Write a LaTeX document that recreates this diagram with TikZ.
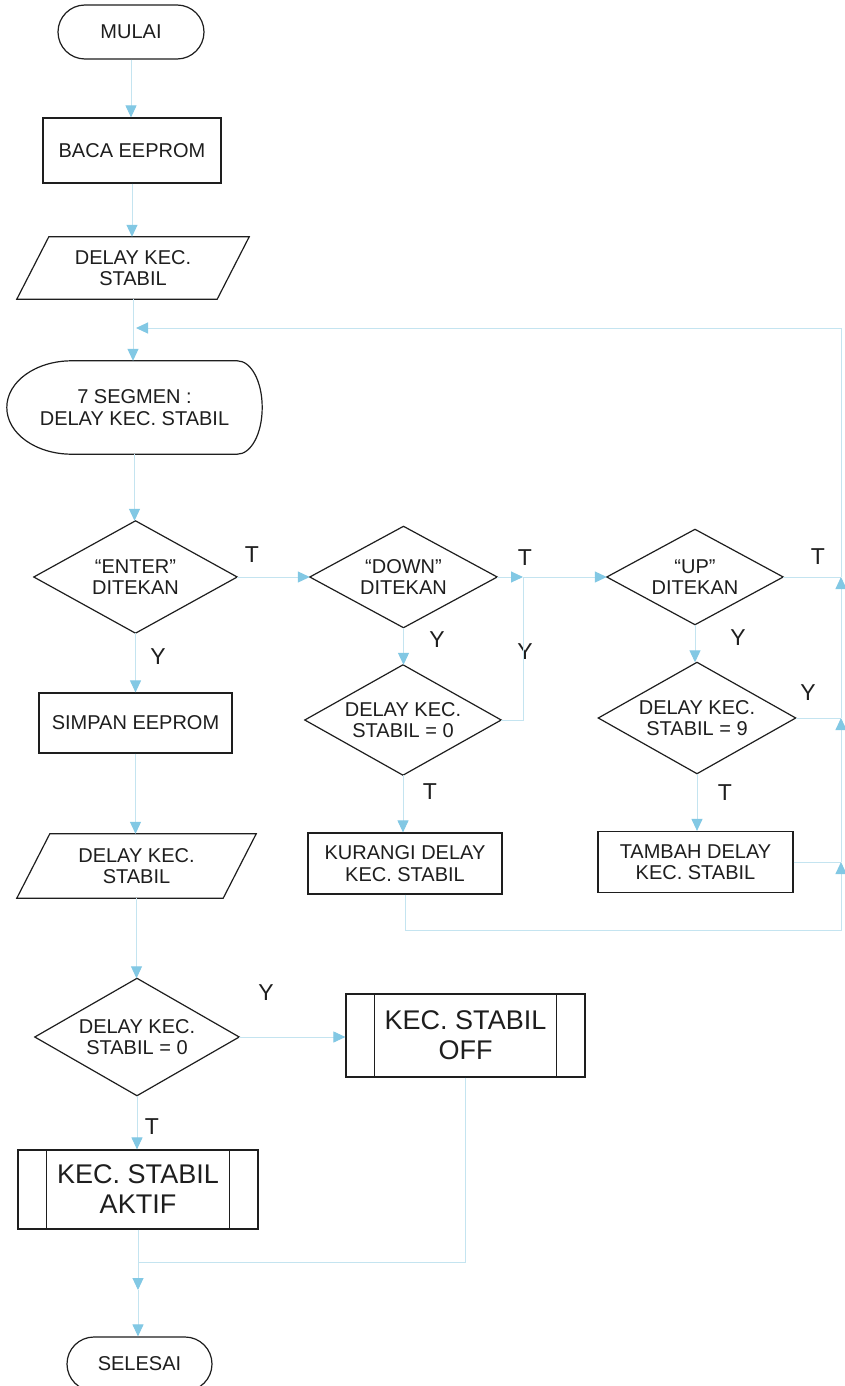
\documentclass[tikz,border=0pt]{standalone}
\usepackage{fontspec}
\setmainfont{Liberation Sans}
\usetikzlibrary{arrows.meta,calc}

\definecolor{linec}{RGB}{196,228,240}
\definecolor{tipc}{RGB}{130,200,228}
\definecolor{ink}{RGB}{30,30,30}

\begin{document}
\begin{tikzpicture}[x=1pt,y=-1pt,
  every node/.style={font=\fontsize{20}{21.5}\selectfont, align=center, text=ink, inner sep=0pt},
  outline/.style={draw=ink, line width=1.2pt},
  terminal/.style={outline, rectangle, rounded corners=27pt, minimum width=#1, minimum height=54pt},
  process/.style n args={2}{outline, rectangle, minimum width=#1, minimum height=#2},
  decision/.style n args={2}{rectangle, minimum width=#1, minimum height=#2,
    append after command={\pgfextra{\draw[outline] (\tikzlastnode.north) -- (\tikzlastnode.east)
      -- (\tikzlastnode.south) -- (\tikzlastnode.west) -- cycle;}}},
  io/.style n args={3}{rectangle, minimum width=#1, minimum height=#2,
    append after command={\pgfextra{\draw[outline] ([shift={(#3,0)}]\tikzlastnode.north west)
      -- (\tikzlastnode.north east) -- ([shift={(-#3,0)}]\tikzlastnode.south east)
      -- (\tikzlastnode.south west) -- cycle;}}},
  subr/.style n args={3}{outline, rectangle, minimum width=#1, minimum height=#2,
    font=\fontsize{27}{30}\selectfont,
    append after command={\pgfextra{
      \draw[outline] ([shift={(#3,0)}]\tikzlastnode.north west) -- ([shift={(#3,0)}]\tikzlastnode.south west);
      \draw[outline] ([shift={(-#3,0)}]\tikzlastnode.north east) -- ([shift={(-#3,0)}]\tikzlastnode.south east);}}},
  displayshape/.style={rectangle, minimum width=255pt, minimum height=93pt,
    append after command={\pgfextra{\draw[outline]
      ([shift={(65,0)}]\tikzlastnode.north west) -- ([shift={(-25,0)}]\tikzlastnode.north east)
      .. controls ([shift={(-11,0)}]\tikzlastnode.north east) and ([shift={(0,-26)}]\tikzlastnode.east) .. (\tikzlastnode.east)
      .. controls ([shift={(0,26)}]\tikzlastnode.east) and ([shift={(-11,0)}]\tikzlastnode.south east) .. ([shift={(-25,0)}]\tikzlastnode.south east)
      -- ([shift={(65,0)}]\tikzlastnode.south west)
      .. controls ([shift={(29,0)}]\tikzlastnode.south west) and ([shift={(0,26)}]\tikzlastnode.west) .. (\tikzlastnode.west)
      .. controls ([shift={(0,-26)}]\tikzlastnode.west) and ([shift={(29,0)}]\tikzlastnode.north west) .. cycle;}}},
  lab/.style={font=\fontsize{23}{23}\selectfont},
  flow/.style={draw=linec, line width=1pt},
  arr/.style={flow, -{Triangle[width=11pt,length=12pt,color=tipc]}}
]
\fill[white] (0,0) rectangle (844,1386);
\useasboundingbox (0,0) rectangle (844,1386);

% main column
\node[terminal=146pt] (mulai) at (131,32) {MULAI};
\node[process={178pt}{65pt}] (baca) at (132,150.5) {BACA EEPROM};
\node[io={232pt}{62pt}{32}] (par1) at (133,268) {DELAY KEC.\\STABIL};
\node[displayshape] (disp) at (134.5,407.5) {7 SEGMEN :\\DELAY KEC. STABIL};
\node[decision={203pt}{112pt}] (enter) at (135.5,577) {“ENTER”\\DITEKAN};
\node[process={193pt}{60pt}] (simpan) at (135.5,723) {SIMPAN EEPROM};
\node[io={239pt}{64pt}{33}] (par2) at (136.5,866) {DELAY KEC.\\STABIL};
\node[decision={204pt}{117pt}] (db) at (137,1037) {DELAY KEC.\\STABIL = 0};
\node[subr={240pt}{79pt}{29}] (aktif) at (138,1189.5) {KEC. STABIL\\AKTIF};
\node[terminal=145pt] (selesai) at (139.5,1364) {SELESAI};
\node[subr={239pt}{83pt}{29}] (off) at (465.5,1035.5) {KEC. STABIL\\OFF};

% DOWN column
\node[decision={187pt}{101pt}] (down) at (403.5,577) {“DOWN”\\DITEKAN};
\node[decision={196pt}{110pt}] (d0) at (403,720) {DELAY KEC.\\STABIL = 0};
\node[process={194pt}{61pt}] (kurangi) at (405,863.5) {KURANGI DELAY\\KEC. STABIL};

% UP column
\node[decision={176pt}{95pt}] (up) at (695,577) {“UP”\\DITEKAN};
\node[decision={197pt}{111pt}] (d9) at (697,718) {DELAY KEC.\\STABIL = 9};
\node[process={195pt}{61pt}] (tambah) at (695.5,862) {TAMBAH DELAY\\KEC. STABIL};

% junction points
\coordinate (j1) at (136,328);
\coordinate (rc) at (841,328);
\coordinate (j2) at (523,577);
\coordinate (r1) at (841,577);
\coordinate (r2) at (841,718);
\coordinate (r3) at (841,862);
\coordinate (r4) at (841,930);
\coordinate (jb) at (138,1262);
\coordinate (jc) at (138,1290);

% branch labels
\node[lab] (tEnter) at (252,555) {T};
\node[lab] (tDown) at (525,558) {T};
\node[lab] (tUp) at (818,557) {T};
\node[lab] (yEnter) at (158,657) {Y};
\node[lab] (yDown) at (437,640) {Y};
\node[lab] (yZero) at (525,652) {Y};
\node[lab] (yUp) at (738,638) {Y};
\node[lab] (yNine) at (808,693) {Y};
\node[lab] (tZero) at (430,792) {T};
\node[lab] (tNine) at (725,793) {T};
\node[lab] (yOff) at (266,993) {Y};
\node[lab] (tAktif) at (152,1127) {T};

% connectors (vertical runs kept straight below each source node)
\draw[arr] (mulai.south) -- (mulai.south |- baca.north);
\draw[arr] (baca.south) -- (baca.south |- par1.north);
\draw[arr] (par1.south) -- (par1.south |- disp.north);
\draw[arr] (disp.south) -- (disp.south |- enter.north);
\draw[arr] (enter.east) -- (down.west);
\draw[arr] (down.east) -- (j2);
\draw[arr] (j2) -- (up.west);
\draw[flow] (d0.east) -| (j2);
\draw[arr] (down.south) -- (down.south |- d0.north);
\draw[arr] (d0.south) -- (d0.south |- kurangi.north);
\draw[arr] (up.south) -- (up.south |- d9.north);
\draw[arr] (d9.south) -- (d9.south |- tambah.north);
\draw[flow] (up.east) -- (r1);
\draw[flow] (d9.east) -- (r2);
\draw[flow] (tambah.east) -- (r3);
\draw[arr] (kurangi.south) |- (r4) -- (r3);
\draw[arr] (r3) -- (r2);
\draw[arr] (r2) -- (r1);
\draw[arr] (r1) -- (rc) -- (j1);
\draw[arr] (enter.south) -- (enter.south |- simpan.north);
\draw[arr] (simpan.south) -- (simpan.south |- par2.north);
\draw[arr] (par2.south) -- (par2.south |- db.north);
\draw[arr] (db.east) -- (db.east -| off.west);
\draw[arr] (db.south) -- (db.south |- aktif.north);
\draw[flow] (off.south) |- (jb);
\draw[arr] (aktif.south) -- (jc);
\draw[arr] (jc) -- (jc |- selesai.north);
\end{tikzpicture}
\end{document}
